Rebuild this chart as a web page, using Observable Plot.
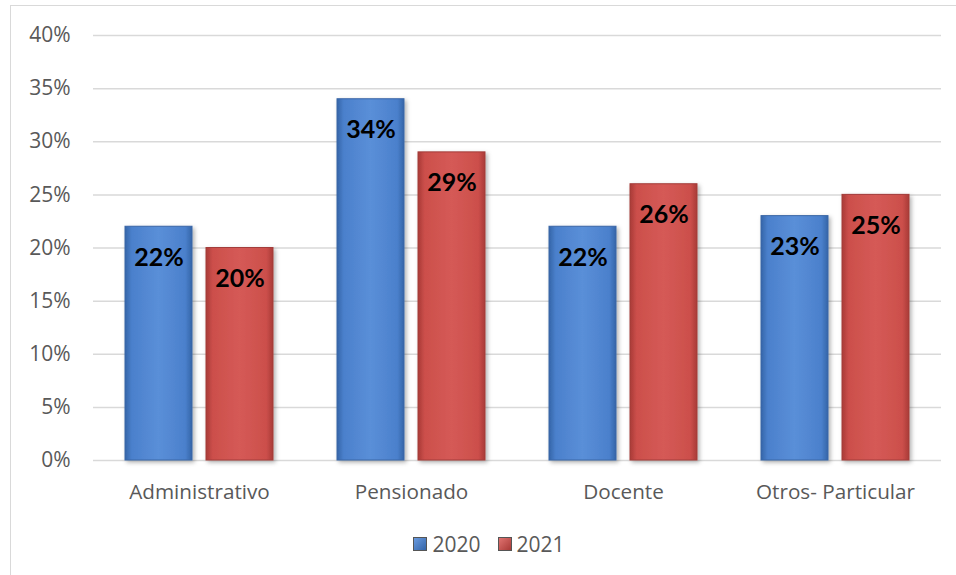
<!DOCTYPE html>
<html><head><meta charset="utf-8">
<script src="https://cdn.jsdelivr.net/npm/d3@7"></script>
<script src="https://cdn.jsdelivr.net/npm/@observablehq/plot@0.6"></script>
<style>
body{margin:0;background:#fff;}
#wrap{position:relative;width:956px;height:575px;overflow:hidden;}
#frame{position:absolute;left:10px;top:5px;width:960px;height:600px;border:1px solid #d9d9d9;box-sizing:border-box;}
#legend{position:absolute;left:0;width:956px;top:530px;display:flex;justify-content:center;gap:17px;font-family:"Open Sans",sans-serif;font-size:21px;line-height:28px;color:#595959;padding-left:22px;box-sizing:border-box;}
#legend span.item{display:flex;align-items:center;gap:5px;}
#legend .sw{width:14px;height:14px;display:inline-block;box-sizing:border-box;}
</style></head>
<body><div id="wrap"><div id="frame"></div><div id="chart"></div><div id="legend"></div></div>
<script>
const categories = ["Administrativo","Pensionado","Docente","Otros- Particular"];
const years = ["2020","2021"];
const values2020 = [22,34,22,23];
const values2021 = [20,29,26,25];
const yTicks = [0,5,10,15,20,25,30,35,40];
const colors = {"2020":"url(#gBlue)","2021":"url(#gRed)"};

const data = [];
categories.forEach((c,i)=>{
  data.push({cat:c,year:"2020",v:values2020[i]});
  data.push({cat:c,year:"2021",v:values2021[i]});
});

const plot = Plot.plot({
  width:956, height:575,
  marginTop:35, marginBottom:115, marginLeft:92, marginRight:14,
  style:{fontFamily:"Open Sans, sans-serif", fontSize:"20px", color:"#595959", background:"transparent"},
  fx:{domain:categories, paddingInner:0, paddingOuter:0, label:null, axis:null},
  x:{domain:years, paddingInner:0.17, paddingOuter:0.38, axis:null},
  y:{domain:[0,40], ticks:yTicks, label:null, axis:null},
  marks:[
    Plot.ruleY(yTicks,{stroke:"#d9d9d9", strokeWidth:1.5}),
    Plot.text(yTicks,{fx:()=>categories[0], y:d=>d, frameAnchor:"left", dx:-23, textAnchor:"end", text:d=>d+"%", fill:"#595959", fontSize:21}),
    Plot.barY(data,{fx:"cat", x:"year", y:"v", fill:d=>colors[d.year], stroke:d=>d.year==="2020"?"#3a66a6":"#a33c3a", strokeWidth:1}),
    Plot.text(data,{fx:"cat", x:"year", y:"v", dy:31, text:d=>d.v+"%", fill:"#000", fontWeight:"bold", fontSize:25, fontFamily:"Lato, sans-serif"}),
    Plot.text(categories,{fx:d=>d, frameAnchor:"bottom", lineAnchor:"middle", dy:32, text:d=>d, fill:"#595959", fontSize:20.7})
  ]
});
document.getElementById("chart").appendChild(plot);

const svg = d3.select(plot);
const defs = svg.insert("defs",":first-child");
function grad(id, edge, mid, light){
  const g = defs.append("linearGradient").attr("id",id).attr("x1","0").attr("x2","1").attr("y1","0").attr("y2","0");
  g.append("stop").attr("offset","0").attr("stop-color",edge);
  g.append("stop").attr("offset","0.1").attr("stop-color",mid);
  g.append("stop").attr("offset","0.5").attr("stop-color",light);
  g.append("stop").attr("offset","0.9").attr("stop-color",mid);
  g.append("stop").attr("offset","1").attr("stop-color",edge);
}
grad("gBlue","#3465a8","#4b80cc","#5a8fd8");
grad("gRed","#a93a37","#cc4f4b","#d55a56");
const f = defs.append("filter").attr("id","sh").attr("x","-20%").attr("y","-5%").attr("width","140%").attr("height","115%");
f.append("feDropShadow").attr("dx",2).attr("dy",2).attr("stdDeviation",2).attr("flood-color","#000").attr("flood-opacity",0.3);
svg.selectAll("rect").attr("filter","url(#sh)");

const lg = document.getElementById("legend");
[["2020","linear-gradient(135deg,#6a9be0,#3465a8)"],["2021","linear-gradient(135deg,#e07370,#a93a37)"]].forEach(([y,bg])=>{
  const s=document.createElement("span"); s.className="item";
  s.innerHTML=`<span class="sw" style="background:${bg};border:1px solid #555"></span>${y}`;
  lg.appendChild(s);
});
</script></body></html>
